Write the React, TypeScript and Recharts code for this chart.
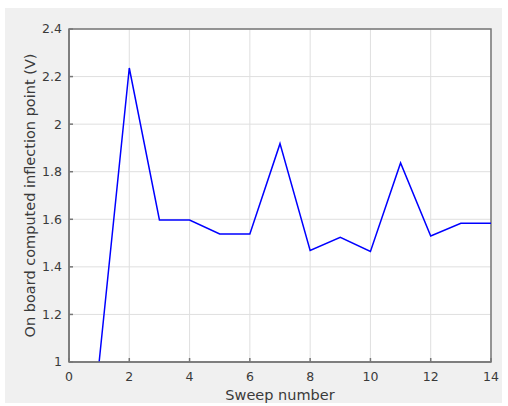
import React from "react";
import { LineChart, Line, XAxis, YAxis, CartesianGrid, ReferenceArea } from "recharts";

const sweeps = [1, 2, 3, 4, 5, 6, 7, 8, 9, 10, 11, 12, 13, 14];
const inflection = [1.0, 2.236, 1.597, 1.597, 1.538, 1.538, 1.918, 1.469, 1.524, 1.465, 1.837, 1.53, 1.583, 1.583];
const xTicks = [0, 2, 4, 6, 8, 10, 12, 14];
const yTicks = [1, 1.2, 1.4, 1.6, 1.8, 2, 2.2, 2.4];

const data = sweeps.map((s, i) => ({ sweep: s, value: inflection[i] }));

const FONT = "'DejaVu Sans', sans-serif";
const TEXT = "#3a3a3a";
const AXIS = "#777777";

export default function App() {
  return (
    <div style={{ position: "absolute", left: 0, top: 0, width: 508, height: 406, background: "#ffffff" }}>
      <div style={{ position: "absolute", left: 5, top: 8, width: 497, height: 395, background: "#f0f0f0" }} />
      <div style={{ position: "absolute", left: 0, top: 0 }}>
        <LineChart width={508} height={406} data={data} margin={{ top: 29, right: 17, left: 0, bottom: 0 }}>
          <CartesianGrid fill="#ffffff" stroke="#dfdfdf" strokeWidth={1} />
          <XAxis
            dataKey="sweep"
            type="number"
            domain={[0, 14]}
            ticks={xTicks}
            height={44}
            tickSize={-4}
            tickMargin={14}
            stroke={AXIS}
            strokeWidth={1.5}
            tick={{ fill: TEXT, fontSize: 12.5, fontFamily: FONT }}
            label={{ value: "Sweep number", position: "center", dy: 11, fill: TEXT, fontSize: 14.5, fontFamily: FONT }}
          />
          <YAxis
            type="number"
            domain={[1, 2.4]}
            ticks={yTicks}
            width={69}
            tickSize={-4}
            tickMargin={11}
            stroke={AXIS}
            strokeWidth={1.5}
            tick={{ fill: TEXT, fontSize: 12.5, fontFamily: FONT }}
            label={{ value: "On board computed inflection point (V)", angle: -90, position: "center", dx: -4.5, fill: TEXT, fontSize: 14.5, fontFamily: FONT }}
          />
          <XAxis
            xAxisId="top"
            orientation="top"
            dataKey="sweep"
            type="number"
            domain={[0, 14]}
            ticks={xTicks}
            height={0}
            tickSize={-4}
            tick={false}
            stroke={AXIS}
            strokeWidth={1.5}
          />
          <YAxis
            yAxisId="right"
            orientation="right"
            type="number"
            domain={[1, 2.4]}
            ticks={yTicks}
            width={0}
            tickSize={-4}
            tick={false}
            stroke={AXIS}
            strokeWidth={1.5}
          />
          <ReferenceArea
            x1={0}
            x2={14}
            y1={1}
            y2={2.4}
            fill="none"
            fillOpacity={0}
            stroke={AXIS}
            strokeWidth={1.5}
            ifOverflow="visible"
          />
          <Line
            dataKey="value"
            stroke="#0000ff"
            strokeWidth={1.5}
            dot={false}
            isAnimationActive={false}
          />
          <Line
            xAxisId="top"
            yAxisId="right"
            dataKey="value"
            stroke="none"
            strokeWidth={0}
            dot={false}
            activeDot={false}
            legendType="none"
            isAnimationActive={false}
          />
        </LineChart>
      </div>
    </div>
  );
}
